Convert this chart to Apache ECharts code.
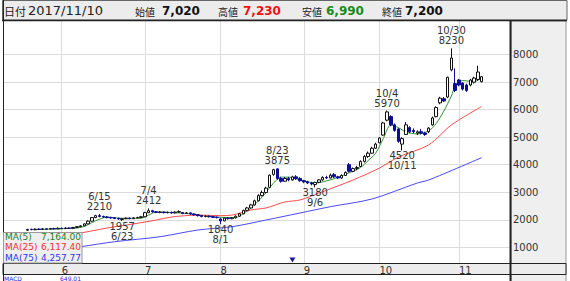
<!DOCTYPE html>
<html><head><meta charset="utf-8">
<script src="https://cdn.jsdelivr.net/npm/echarts@6/dist/echarts.min.js"></script>
<style>html,body{margin:0;padding:0;background:#fff}#c{width:570px;height:281px}</style>
</head><body><div id="c"></div>
<script>
// ---- data ----
const padBefore = ['2017/05/11','2017/05/12','2017/05/15','2017/05/16','2017/05/17','2017/05/18'];
const days = [
'2017/05/19','2017/05/22','2017/05/23','2017/05/24','2017/05/25','2017/05/26','2017/05/29','2017/05/30','2017/05/31',
'2017/06/01','2017/06/02','2017/06/05','2017/06/06','2017/06/07','2017/06/08','2017/06/09','2017/06/12','2017/06/13','2017/06/14','2017/06/15','2017/06/16','2017/06/19','2017/06/20','2017/06/21','2017/06/22','2017/06/23','2017/06/26','2017/06/27','2017/06/28','2017/06/29','2017/06/30',
'2017/07/03','2017/07/04','2017/07/05','2017/07/06','2017/07/07','2017/07/10','2017/07/11','2017/07/12','2017/07/13','2017/07/14','2017/07/18','2017/07/19','2017/07/20','2017/07/21','2017/07/24','2017/07/25','2017/07/26','2017/07/27','2017/07/28','2017/07/31',
'2017/08/01','2017/08/02','2017/08/03','2017/08/04','2017/08/07','2017/08/08','2017/08/09','2017/08/10','2017/08/14','2017/08/15','2017/08/16','2017/08/17','2017/08/18','2017/08/21','2017/08/22','2017/08/23','2017/08/24','2017/08/25','2017/08/28','2017/08/29','2017/08/30','2017/08/31',
'2017/09/01','2017/09/04','2017/09/05','2017/09/06','2017/09/07','2017/09/08','2017/09/11','2017/09/12','2017/09/13','2017/09/14','2017/09/15','2017/09/19','2017/09/20','2017/09/21','2017/09/22','2017/09/25','2017/09/26','2017/09/27','2017/09/28','2017/09/29',
'2017/10/02','2017/10/03','2017/10/04','2017/10/05','2017/10/06','2017/10/10','2017/10/11','2017/10/12','2017/10/13','2017/10/16','2017/10/17','2017/10/18','2017/10/19','2017/10/20','2017/10/23','2017/10/24','2017/10/25','2017/10/26','2017/10/27','2017/10/30','2017/10/31',
'2017/11/01','2017/11/02','2017/11/06','2017/11/07','2017/11/08','2017/11/09','2017/11/10'];
const padAfter = ['2017/11/13','2017/11/14','2017/11/15','2017/11/16','2017/11/17','2017/11/20','2017/11/21'];

const open = [
1620,1650,1640,1660,1650,1670,1660,1680,1670,
1690,1680,1700,1690,1720,1750,1780,1850,1950,2080,2150,2120,2100,2080,2070,2050,2010,2040,2060,2040,2070,2080,
2110,2260,2330,2290,2270,2280,2260,2270,2250,2280,2260,2230,2250,2210,2180,2150,2120,2130,2110,2090,
2030,1960,2060,2040,2070,2130,2220,2340,2430,2540,2690,2880,2990,3180,3650,3850,3500,3400,3500,3450,3560,3500,
3420,3380,3340,3280,3360,3450,3540,3520,3640,3560,3520,3610,4000,3760,3860,3940,4120,4300,4420,4600,
4800,5080,5620,5750,5450,5300,4750,5100,5350,5250,5150,5200,5150,5200,5450,5750,6250,6400,6460,7450,6950,
7080,6970,6900,6900,7000,7100,7020];
const close = [
1650,1640,1660,1650,1670,1660,1680,1670,1690,
1680,1700,1690,1720,1750,1780,1850,1950,2080,2150,2120,2100,2080,2070,2050,2030,2040,2060,2040,2070,2080,2110,
2260,2330,2290,2270,2280,2260,2270,2250,2280,2300,2230,2250,2210,2180,2150,2120,2130,2110,2090,2080,
1960,2060,2040,2070,2130,2220,2340,2430,2540,2690,2880,2990,3150,3620,3820,3500,3400,3500,3450,3560,3500,3420,
3380,3340,3300,3360,3450,3540,3520,3620,3560,3520,3610,3720,3760,3860,3900,4120,4300,4420,4600,4750,
4970,5520,5920,5450,5250,4850,4950,5450,5200,5200,5200,5150,5100,5330,5700,6080,6420,6320,7180,7880,6700,
6900,6750,6700,7080,7150,7370,7200];
const low = [
1600,1620,1620,1630,1640,1640,1650,1650,1660,
1660,1670,1670,1680,1700,1730,1770,1840,1940,2060,2090,2070,2050,2040,2020,2000,1957,2020,2020,2030,2050,2060,
2100,2240,2260,2240,2240,2230,2230,2220,2230,2250,2200,2210,2190,2150,2120,2090,2090,2080,2060,2050,
1840,1950,2010,2020,2050,2110,2200,2310,2410,2520,2670,2850,2960,3170,3600,3450,3350,3380,3400,3420,3450,3380,
3330,3300,3250,3180,3330,3420,3480,3500,3520,3480,3490,3590,3720,3730,3800,3920,4080,4250,4400,4580,
4780,5050,5580,5400,5200,4800,4520,5080,5150,5150,5080,5100,5050,5150,5420,5720,6200,6280,6420,7400,6640,
6850,6700,6650,6850,6950,7050,6990];
const high = [
1670,1680,1680,1690,1700,1690,1700,1710,1720,
1720,1730,1720,1740,1770,1800,1870,1980,2100,2180,2210,2150,2130,2110,2100,2080,2060,2080,2090,2090,2110,2140,
2290,2412,2360,2320,2310,2300,2300,2300,2310,2340,2280,2280,2270,2230,2200,2170,2160,2160,2140,2120,
2060,2080,2090,2100,2160,2250,2370,2470,2580,2730,2930,3060,3200,3650,3850,3875,3560,3550,3560,3600,3620,3550,
3450,3420,3380,3380,3480,3580,3600,3680,3700,3600,3650,3760,4060,3900,3960,4160,4350,4480,4650,4800,
5000,5560,5970,5800,5500,5330,5000,5550,5400,5320,5250,5300,5200,5370,5750,6120,6470,6460,7200,8230,7500,
7120,7000,6950,7120,7200,7600,7230];

const ma5 = [['2017/05/23',1640],['2017/05/29',1660],['2017/06/02',1680],['2017/06/07',1700],['2017/06/09',1760],['2017/06/13',1900],['2017/06/15',2020],['2017/06/19',2100],['2017/06/22',2060],['2017/06/27',2050],['2017/06/30',2060],['2017/07/04',2170],['2017/07/06',2280],['2017/07/11',2270],['2017/07/14',2250],['2017/07/21',2200],['2017/07/26',2140],['2017/08/01',2090],['2017/08/07',2080],['2017/08/09',2220],['2017/08/14',2420],['2017/08/17',2830],['2017/08/22',3330],['2017/08/24',3550],['2017/08/28',3550],['2017/08/31',3450],['2017/09/06',3340],['2017/09/12',3450],['2017/09/19',3650],['2017/09/25',3900],['2017/09/27',4150],['2017/09/29',4420],['2017/10/03',4950],['2017/10/05',5440],['2017/10/10',5350],['2017/10/12',5190],['2017/10/17',5120],['2017/10/20',5230],['2017/10/24',5500],['2017/10/26',5950],['2017/10/30',6500],['2017/10/31',6850],['2017/11/02',7060],['2017/11/08',7020],['2017/11/10',7164]];
const ma25 = [['2017/05/19',1250],['2017/05/31',1400],['2017/06/08',1520],['2017/06/19',1700],['2017/06/28',1850],['2017/07/06',1990],['2017/07/12',2100],['2017/07/24',2170],['2017/08/01',2150],['2017/08/04',2170],['2017/08/14',2355],['2017/08/18',2430],['2017/08/25',2646],['2017/08/31',2720],['2017/09/07',2970],['2017/09/21',3445],['2017/10/02',3880],['2017/10/10',4280],['2017/10/20',4720],['2017/10/30',5445],['2017/11/10',6117.4]];
const ma75 = [['2017/05/19',760],['2017/06/08',1021],['2017/06/21',1203],['2017/07/07',1384],['2017/07/24',1628],['2017/08/04',1748],['2017/08/18',1991],['2017/08/31',2246],['2017/09/12',2475],['2017/09/28',2755],['2017/10/17',3336],['2017/10/20',3445],['2017/11/10',4257.77]];

const yTicks = [1000,2000,3000,4000,5000,6000,7000,8000];
const monthStarts = ['2017/06/01','2017/07/03','2017/08/01','2017/09/01','2017/10/02','2017/11/01'];
const monthLabels = ['6','7','8','9','10','11'];
const highDates = ['2017/06/15','2017/07/04','2017/08/23','2017/10/04','2017/10/30'];
const highValues = [2210,2412,3875,5970,8230];
const highLabels = ['6/15','7/4','8/23','10/4','10/30'];
const lowDates = ['2017/06/23','2017/08/01','2017/09/06','2017/10/11'];
const lowValues = [1957,1840,3180,4520];
const lowLabels = ['6/23','8/1','9/6','10/11'];
const eventDates = ['2017/08/29'];
const headerDate = '2017/11/10';
const headerOpen = '7,020', headerHigh = '7,230', headerLow = '6,990', headerClose = '7,200';
const legendNames = ['MA(5)','MA(25)','MA(75)'];
const legendValues = ['7,164.00','6,117.40','4,257.77'];
const macdValue = '649.01';

// ---- chart ----
const FONT = 'DejaVu Sans';
const CJK = 'Noto Sans CJK JP';
const axisDates = padBefore.concat(days, padAfter);
const candleData = padBefore.map(() => '-').concat(days.map((d, i) => [open[i], close[i], low[i], high[i]]));
const maColors = ['#2e8f2e', '#ff4a4a', '#4848ff'];
const legendColors = ['#1f7f1f', '#f03030', '#3434f0'];

const markPts = [];
highDates.forEach((d, i) => markPts.push({
  coord: [d, highValues[i]], symbolSize: 1,
  label: { position: 'top', distance: 2, formatter: highLabels[i] + '\n' + highValues[i] }
}));
lowDates.forEach((d, i) => markPts.push({
  coord: [d, lowValues[i]], symbolSize: 1,
  label: { position: 'bottom', distance: 0, formatter: lowValues[i] + '\n' + lowLabels[i] }
}));
eventDates.forEach(d => markPts.push({
  coord: [d, yTicks[0]], y: 260, symbol: 'triangle', symbolRotate: 180, symbolSize: [6, 5],
  itemStyle: { color: '#1a1a9a' }, label: { show: false }
}));

const graphic = [
  // header
  { type: 'rect', z: -10, silent: true, shape: { x: 2.5, y: 0.5, width: 564.5, height: 19.5 }, style: { fill: '#ececec', stroke: '#666', lineWidth: 1 } },
  { type: 'line', z: 10, silent: true, shape: { x1: 2, y1: 20.5, x2: 567, y2: 20.5 }, style: { stroke: '#222', lineWidth: 1.5 } },
  // right panel
  { type: 'rect', z: -10, silent: true, shape: { x: 511, y: 21, width: 55, height: 262 }, style: { fill: '#efefef', stroke: '#999', lineWidth: 1 } },
  // x band
  { type: 'rect', z: -9, silent: true, shape: { x: 3, y: 263.5, width: 563, height: 11 }, style: { fill: '#ececec', stroke: '#222', lineWidth: 1 } },
  // borders
  { type: 'line', z: 10, silent: true, shape: { x1: 3.5, y1: 0, x2: 3.5, y2: 281 }, style: { stroke: '#222', lineWidth: 1 } },
  { type: 'line', z: 10, silent: true, shape: { x1: 510.5, y1: 20, x2: 510.5, y2: 281 }, style: { stroke: '#222', lineWidth: 2 } },
  // header texts
  { type: 'text', z: 11, x: 4, y: 10.5, style: { text: '日付', font: '11px "' + CJK + '"', fill: '#222', verticalAlign: 'middle' } },
  { type: 'text', z: 11, x: 28, y: 10.5, style: { text: headerDate, font: '13px "' + FONT + '"', fill: '#222', verticalAlign: 'middle' } },
  { type: 'text', z: 11, x: 135, y: 11, style: { text: '始値', font: '10px "' + CJK + '"', fill: '#222', verticalAlign: 'middle' } },
  { type: 'text', z: 11, x: 162, y: 10.5, style: { text: headerOpen, font: 'bold 12px "' + FONT + '"', fill: '#111', verticalAlign: 'middle' } },
  { type: 'text', z: 11, x: 218, y: 11, style: { text: '高値', font: '10px "' + CJK + '"', fill: '#222', verticalAlign: 'middle' } },
  { type: 'text', z: 11, x: 243, y: 10.5, style: { text: headerHigh, font: 'bold 12px "' + FONT + '"', fill: '#ee1111', verticalAlign: 'middle' } },
  { type: 'text', z: 11, x: 302, y: 11, style: { text: '安値', font: '10px "' + CJK + '"', fill: '#222', verticalAlign: 'middle' } },
  { type: 'text', z: 11, x: 326, y: 10.5, style: { text: headerLow, font: 'bold 12px "' + FONT + '"', fill: '#1a8a1a', verticalAlign: 'middle' } },
  { type: 'text', z: 11, x: 382, y: 11, style: { text: '終値', font: '10px "' + CJK + '"', fill: '#222', verticalAlign: 'middle' } },
  { type: 'text', z: 11, x: 405, y: 10.5, style: { text: headerClose, font: 'bold 12px "' + FONT + '"', fill: '#111', verticalAlign: 'middle' } },
  // legend box
  { type: 'rect', z: 100, silent: true, shape: { x: 3.5, y: 232.5, width: 78.5, height: 30.5 }, style: { fill: '#eeeeee', stroke: '#999', lineWidth: 1 } },
  // MACD text (panel below, only its top shows)
  { type: 'text', z: 11, x: 4, y: 281, style: { text: 'MACD', font: '6px "' + FONT + '"', fill: '#2a2ad0', verticalAlign: 'bottom' } },
  { type: 'text', z: 11, x: 81, y: 281, style: { text: macdValue, font: '6px "' + FONT + '"', fill: '#2a2ad0', align: 'right', verticalAlign: 'bottom' } }
];
legendNames.forEach((n, i) => {
  const y = 236.5 + i * 10.8;
  graphic.push({ type: 'text', z: 101, x: 5, y: y, style: { text: n, font: '9px "' + FONT + '"', fill: legendColors[i], verticalAlign: 'middle' } });
  graphic.push({ type: 'text', z: 101, x: 81, y: y, style: { text: legendValues[i], font: '9px "' + FONT + '"', fill: legendColors[i], align: 'right', verticalAlign: 'middle' } });
});

const chart = echarts.init(document.getElementById('c'), null, { renderer: 'svg' });
chart.setOption({
  animation: false,
  backgroundColor: '#fff',
  grid: { left: 3, right: 60, top: 20, bottom: 18 },
  xAxis: {
    type: 'category', data: axisDates, boundaryGap: true,
    axisLine: { show: false }, axisTick: { show: false }, splitLine: { show: false },
    axisLabel: {
      interval: (i, v) => monthStarts.indexOf(v) >= 0,
      formatter: v => monthLabels[monthStarts.indexOf(v)],
      align: 'left', margin: 2, fontSize: 10, color: '#333', fontFamily: FONT
    }
  },
  yAxis: {
    type: 'value', position: 'right', min: 429, max: 9261,
    axisLine: { show: false },
    axisTick: { show: false, customValues: yTicks },
    axisLabel: { customValues: yTicks, fontSize: 10, color: '#333', margin: 3, fontFamily: FONT, formatter: v => String(v) },
    splitLine: { show: true, lineStyle: { color: '#dcdcdc', width: 1 } }
  },
  graphic: graphic,
  series: [
    {
      type: 'candlestick', data: candleData, barWidth: 3, z: 4,
      itemStyle: { color: '#ffffff', color0: '#0c0c96', borderColor: '#111', borderColor0: '#0c0c96', borderWidth: 1 },
      markLine: {
        silent: true, symbol: 'none', z: 1, label: { show: false },
        lineStyle: { color: '#dcdcdc', type: 'solid', width: 1 },
        data: monthStarts.map(d => ({ xAxis: d }))
      },
      markPoint: {
        silent: true, symbol: 'circle', symbolSize: 1, z: 6,
        itemStyle: { color: 'rgba(0,0,0,0)' },
        label: { show: true, color: '#333', fontSize: 10, fontFamily: FONT, lineHeight: 10 },
        data: markPts
      }
    },
    { type: 'line', data: ma5, showSymbol: false, smooth: 0.3, z: 3, lineStyle: { color: maColors[0], width: 1 } },
    { type: 'line', data: ma25, showSymbol: false, smooth: 0.3, z: 3, lineStyle: { color: maColors[1], width: 1 } },
    { type: 'line', data: ma75, showSymbol: false, smooth: 0.3, z: 3, lineStyle: { color: maColors[2], width: 1 } }
  ]
});
</script></body></html>
